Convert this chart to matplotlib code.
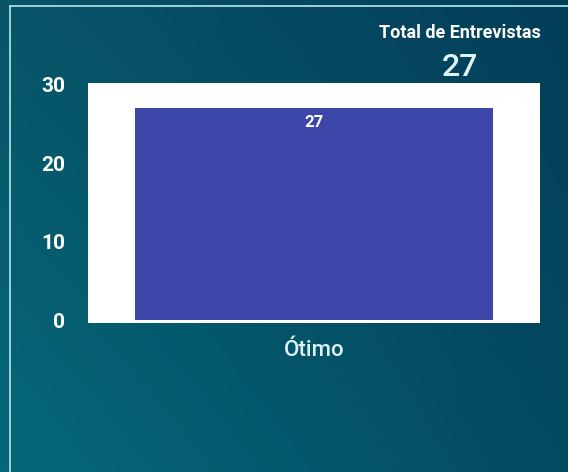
import numpy as np
import matplotlib
matplotlib.use("Agg")
import matplotlib.pyplot as plt
from matplotlib.lines import Line2D

categories = ["Ótimo"]
values = [27]
yticks = [0, 10, 20, 30]
total_label = "Total de Entrevistas"
total_value = 27

plt.rcParams['font.family'] = ['Roboto', 'DejaVu Sans']

W, H = 568, 472
fig = plt.figure(figsize=(W / 100, H / 100), dpi=100)

# background gradient
bg = fig.add_axes([0, 0, 1, 1])
bg.set_axis_off()
tl = np.array([8, 84, 104]) / 255
tr = np.array([3, 62, 88]) / 255
bl = np.array([4, 104, 120]) / 255
br = np.array([4, 74, 98]) / 255
ny, nx = 120, 140
u = np.linspace(0, 1, nx)[None, :, None]
v = np.linspace(0, 1, ny)[:, None, None]
img = (1 - v) * ((1 - u) * tl + u * tr) + v * ((1 - u) * bl + u * br)
bg.imshow(img, aspect='auto', extent=[0, 1, 0, 1], origin='upper')
bg.set_xlim(0, 1)
bg.set_ylim(0, 1)
border_c = '#a6dce2'
bg.add_line(Line2D([10 / W, 10 / W], [0, 1 - 6 / H], color=border_c, lw=1.3))
bg.add_line(Line2D([10 / W, 1], [1 - 6 / H, 1 - 6 / H], color=border_c, lw=1.3))

# plot axes
left, right, top, bottom = 88, 540, 83, 323
ax = fig.add_axes([left / W, 1 - bottom / H, (right - left) / W, (bottom - top) / H])
ax.set_facecolor('white')
x = np.arange(len(categories))
bars = ax.bar(x, values, width=0.79, color='#3D47A9', zorder=2)
ax.set_xlim(-0.5, 0.5)
ax.set_ylim(-0.35, 30.25)
ax.set_yticks(yticks)
ax.set_yticklabels([str(t) for t in yticks], color='white', fontsize=15, fontweight='bold')
ax.set_xticks(x)
ax.set_xticklabels(categories, color='#dcf2f4', fontsize=16, fontweight='medium')
ax.tick_params(axis='y', length=0, pad=16.5)
ax.tick_params(axis='x', length=0, pad=12.5)
for s in ax.spines.values():
    s.set_visible(False)
for b, val in zip(bars, values):
    ax.text(b.get_x() + b.get_width() / 2, val - 1.8, str(val), ha='center', va='center',
            color='white', fontsize=12, fontweight='bold')

fig.text(460 / W, 1 - 38.5 / H, total_label, ha='center', va='baseline', color='white',
         fontsize=13, fontweight='bold')
fig.text(460 / W, 1 - 75.5 / H, str(total_value), ha='center', va='baseline', color='#def4f6',
         fontsize=23, fontweight='medium')

fig.savefig('out.png', dpi=100)
